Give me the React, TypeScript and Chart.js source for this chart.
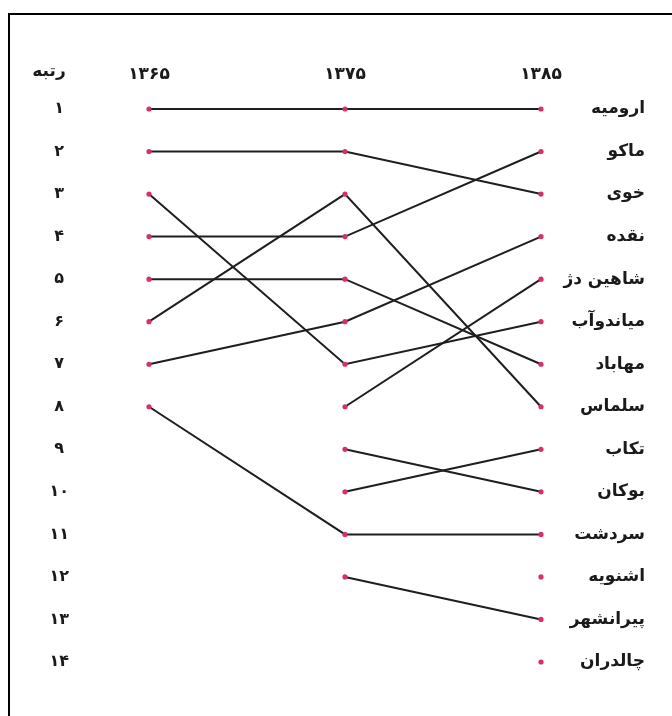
import React, { useEffect, useRef } from "react";
import { Chart, registerables } from "chart.js";

Chart.register(...registerables);

const years = ["۱۳۶۵", "۱۳۷۵", "۱۳۸۵"];
const rankTitle = "رتبه";
const rankLabels = ["۱", "۲", "۳", "۴", "۵", "۶", "۷", "۸", "۹", "۱۰", "۱۱", "۱۲", "۱۳", "۱۴"];
const cities = [
  "ارومیه",
  "ماکو",
  "خوی",
  "نقده",
  "شاهین دژ",
  "میاندوآب",
  "مهاباد",
  "سلماس",
  "تکاب",
  "بوکان",
  "سردشت",
  "اشنویه",
  "پیرانشهر",
  "چالدران",
];
const rank1365 = [1, 4, 2, 7, null, 3, 5, 6, null, null, 8, null, null, null];
const rank1375 = [1, 4, 2, 6, 8, 7, 5, 3, 10, 9, 11, null, 12, null];
const rank1385 = [1, 2, 3, 4, 5, 6, 7, 8, 9, 10, 11, 12, 13, 14];

const FONT = "'DejaVu Sans', sans-serif";
const TEXT = "#1a1a1a";
const LINE = "#1e1e1e";
const DOT = "#d92e6a";

export default function App() {
  const ref = useRef<HTMLCanvasElement | null>(null);

  useEffect(() => {
    if (!ref.current) return;
    const titlePlugin = {
      id: "rankTitle",
      afterDraw(chart: any) {
        const ctx = chart.ctx;
        const area = chart.chartArea;
        ctx.save();
        ctx.font = `bold 17px ${FONT}`;
        ctx.fillStyle = TEXT;
        ctx.textAlign = "center";
        ctx.textBaseline = "middle";
        ctx.fillText(rankTitle, 49, area.top - 37);
        ctx.restore();
      },
    };
    const chart = new Chart(ref.current, {
      type: "line",
      data: {
        labels: years,
        datasets: cities.map((c, i) => ({
          label: c,
          data: [rank1365[i], rank1375[i], rank1385[i]],
          borderColor: LINE,
          borderWidth: 2,
          pointRadius: 2.6,
          pointBackgroundColor: DOT,
          pointBorderColor: DOT,
          pointBorderWidth: 0,
          spanGaps: false,
          tension: 0,
          clip: false as any,
          yAxisID: "y",
        })),
      },
      options: {
        responsive: false,
        animation: false,
        events: [],
        layout: { padding: { top: 40, bottom: 54, left: 0, right: 27 } },
        plugins: { legend: { display: false }, tooltip: { enabled: false } },
        scales: {
          x: {
            type: "category",
            position: "top",
            offset: false,
            grid: { display: false },
            border: { display: false },
            ticks: {
              color: TEXT,
              padding: 16,
              maxRotation: 0,
              font: { family: FONT, size: 17, weight: "bold" },
            },
            afterFit(scale: any) {
              scale.height = 69;
            },
          },
          y: {
            type: "linear",
            position: "left",
            reverse: true,
            min: 1,
            max: 14,
            grid: { display: false },
            border: { display: false },
            ticks: {
              stepSize: 1,
              autoSkip: false,
              color: TEXT,
              crossAlign: "center",
              padding: 72,
              font: { family: FONT, size: 16, weight: "bold" },
              callback: (v: any) => rankLabels[Number(v) - 1] ?? "",
            },
            afterFit(scale: any) {
              scale.width = 149;
              scale.paddingTop = 10;
              scale.paddingBottom = 10;
            },
          },
          y2: {
            type: "linear",
            position: "right",
            reverse: true,
            min: 1,
            max: 14,
            grid: { display: false },
            border: { display: false },
            ticks: {
              stepSize: 1,
              autoSkip: false,
              color: TEXT,
              crossAlign: "far",
              font: { family: FONT, size: 17, weight: "bold" },
              callback: (v: any) => {
                const idx = rank1385.indexOf(Number(v));
                return idx >= 0 ? cities[idx] : "";
              },
            },
            afterFit(scale: any) {
              scale.width = 104;
              scale.paddingTop = 10;
              scale.paddingBottom = 10;
            },
          },
        },
      },
      plugins: [titlePlugin],
    });
    return () => chart.destroy();
  }, []);

  return (
    <div>
      <div
        style={{
          position: "fixed",
          left: 8,
          top: 13,
          right: -20,
          bottom: -20,
          borderLeft: "2px solid #000",
          borderTop: "2px solid #000",
        }}
      />
      <canvas
        ref={ref}
        width={672}
        height={716}
        style={{ position: "fixed", left: 0, top: 0, width: 672, height: 716 }}
      />
    </div>
  );
}
